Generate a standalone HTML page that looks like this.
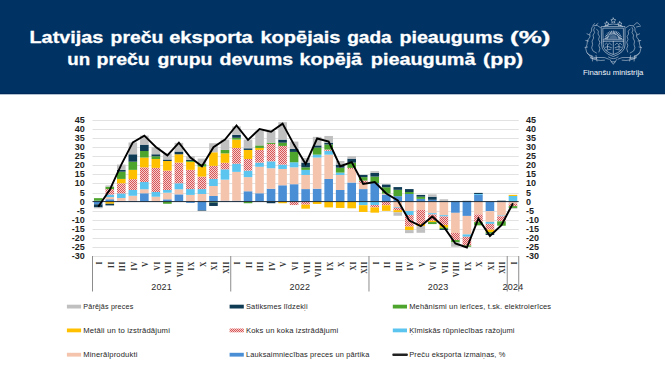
<!DOCTYPE html>
<html><head><meta charset="utf-8">
<style>
html,body{margin:0;padding:0;}
body{width:665px;height:375px;overflow:hidden;background:#fff;position:relative;font-family:"Liberation Sans",sans-serif;}
#hdr{position:absolute;left:0;top:0;width:665px;height:93px;background:#003263;border-bottom:1px solid #00295A;}
#hdr:after{content:"";position:absolute;left:0;top:94px;width:665px;height:1px;background:rgba(0,50,99,0.3);}
svg{position:absolute;left:0;top:0;}
.yl{font-family:"Liberation Sans",sans-serif;font-weight:bold;font-size:9px;fill:#1e1e1e;}
.ml{font-family:"Liberation Serif",serif;font-weight:bold;font-size:7.4px;fill:#333;letter-spacing:0.5px;}
.yr{font-family:"Liberation Sans",sans-serif;font-size:9px;fill:#2a2a2a;letter-spacing:0.2px;}
.lg{font-family:"Liberation Sans",sans-serif;font-size:7.2px;fill:#262626;letter-spacing:0.15px;}
.tt{font-family:"Liberation Sans",sans-serif;font-weight:bold;font-size:17px;fill:#fff;stroke:#fff;stroke-width:0.3px;}
.fm{font-family:"Liberation Sans",sans-serif;font-size:7.8px;fill:#F2F5FA;}
</style></head><body>
<div id="hdr"></div>
<svg width="665" height="375" viewBox="0 0 665 375">
<defs>
<pattern id="chk" width="2" height="2" patternUnits="userSpaceOnUse">
<rect width="2" height="2" fill="#F4CFCF"/>
<rect width="1" height="1" fill="#DA5656"/>
<rect x="1" y="1" width="1" height="1" fill="#DA5656"/>
</pattern>
</defs>
<text x="29.50" y="42.6" class="tt" textLength="73.80" lengthAdjust="spacingAndGlyphs">Latvijas</text>
<text x="110.60" y="42.6" class="tt" textLength="52.70" lengthAdjust="spacingAndGlyphs">preču</text>
<text x="169.20" y="42.6" class="tt" textLength="83.60" lengthAdjust="spacingAndGlyphs">eksporta</text>
<text x="260.50" y="42.6" class="tt" textLength="80.00" lengthAdjust="spacingAndGlyphs">kopējais</text>
<text x="347.20" y="42.6" class="tt" textLength="44.50" lengthAdjust="spacingAndGlyphs">gada</text>
<text x="399.40" y="42.6" class="tt" textLength="104.00" lengthAdjust="spacingAndGlyphs">pieaugums</text>
<text x="510.10" y="42.6" class="tt" textLength="40.30" lengthAdjust="spacingAndGlyphs">(%)</text>
<text x="67.30" y="64.5" class="tt" textLength="22.90" lengthAdjust="spacingAndGlyphs">un</text>
<text x="96.60" y="64.5" class="tt" textLength="53.20" lengthAdjust="spacingAndGlyphs">preču</text>
<text x="157.40" y="64.5" class="tt" textLength="55.00" lengthAdjust="spacingAndGlyphs">grupu</text>
<text x="219.50" y="64.5" class="tt" textLength="73.70" lengthAdjust="spacingAndGlyphs">devums</text>
<text x="299.60" y="64.5" class="tt" textLength="62.50" lengthAdjust="spacingAndGlyphs">kopējā</text>
<text x="370.80" y="64.5" class="tt" textLength="104.70" lengthAdjust="spacingAndGlyphs">pieaugumā</text>
<text x="483.10" y="64.5" class="tt" textLength="40.10" lengthAdjust="spacingAndGlyphs">(pp)</text>
<g fill="none" stroke="#D5DDE8" stroke-width="0.6" stroke-linecap="round" stroke-linejoin="round">
<polygon points="606.80,21.70 607.48,23.07 608.99,23.29 607.89,24.36 608.15,25.86 606.80,25.15 605.45,25.86 605.71,24.36 604.61,23.29 606.12,23.07"/>
<polygon points="613.30,18.00 614.06,19.55 615.77,19.80 614.54,21.00 614.83,22.70 613.30,21.90 611.77,22.70 612.06,21.00 610.83,19.80 612.54,19.55"/>
<polygon points="619.80,21.70 620.48,23.07 621.99,23.29 620.89,24.36 621.15,25.86 619.80,25.15 618.45,25.86 618.71,24.36 617.61,23.29 619.12,23.07"/>
<path d="M604,26.3 Q613.3,21.5 622.6,26.3"/>
<path d="M601.6,26.6 H625 V45 Q625,52.5 613.3,56.5 Q601.6,52.5 601.6,45 Z"/>
<path d="M603.2,28.2 H623.4 V44.8 Q623.4,51.2 613.3,54.6 Q603.2,51.2 603.2,44.8 Z"/>
<path d="M603.2,39.8 H623.4 M603.2,41.3 H623.4 M613.3,41.3 V54"/>
</g>
<g stroke="#D5DDE8" stroke-width="0.8">
<line x1="608.33" y1="38.88" x2="604.55" y2="38.48"/>
<line x1="608.54" y1="37.85" x2="604.93" y2="36.68"/>
<line x1="608.97" y1="36.90" x2="605.68" y2="35.00"/>
<line x1="609.58" y1="36.05" x2="606.76" y2="33.51"/>
<line x1="610.36" y1="35.35" x2="608.13" y2="32.28"/>
<line x1="611.27" y1="34.83" x2="609.72" y2="31.36"/>
<line x1="612.26" y1="34.51" x2="611.47" y2="30.79"/>
<line x1="613.30" y1="34.40" x2="613.30" y2="30.60"/>
<line x1="614.34" y1="34.51" x2="615.13" y2="30.79"/>
<line x1="615.33" y1="34.83" x2="616.88" y2="31.36"/>
<line x1="616.24" y1="35.35" x2="618.47" y2="32.28"/>
<line x1="617.02" y1="36.05" x2="619.84" y2="33.51"/>
<line x1="617.63" y1="36.90" x2="620.92" y2="35.00"/>
<line x1="618.06" y1="37.85" x2="621.67" y2="36.68"/>
<line x1="618.27" y1="38.88" x2="622.05" y2="38.48"/>
</g>
<path d="M608.8,39.6 A4.5,4.5 0 0 1 617.8,39.6 Z" fill="#D5DDE8" opacity="0.35"/>
<g fill="none" stroke="#D5DDE8" stroke-width="0.55" stroke-linecap="round" stroke-linejoin="round">
<path d="M605,44.5 L606.5,43.2 L608,44.6 L609.5,43.2 L611.5,44.8 M605.2,47.2 Q608,45.6 611.5,47.6 M606,50.2 L611,49.2 M607.5,45 V49"/>
<path d="M615,44.8 L617,43.2 L618.5,44.6 L620,43.2 L621.6,44.5 M615,47.6 Q618.5,45.6 621.4,47.2 M615.6,49.2 L620.6,50.2 M619,45 V49"/>
<path d="M600.5,27.5 Q597,24 593.5,25.8 Q590.8,27.6 591.6,31 Q588.8,33.5 590,37 Q586.5,40 587,44.5 Q584.6,48 586.6,52 Q588.5,55.5 592,56"/>
<path d="M594.5,27.5 Q592.6,30 594.6,32.5 Q592,35 593.6,38 Q591,41 592.6,44.5 Q590.5,48 593,51 L596.5,53"/>
<path d="M596.6,29 Q599.6,31 598,34 Q600.6,36 598.6,39.5 Q601,42 598.8,45.6 Q601,48.5 599,52"/>
<path d="M589.6,35 L587,33.8 M588.6,41 L585.8,40.5 M587.5,47 L585,47.5 M593,25.5 L594.5,23.6 M596,25 L598,23.5"/>
<path d="M592,56 L592.5,61 M596,55.5 L597,61 M590.5,58 Q593.5,59.5 596.5,58.6"/>
<path d="M626.1,27.5 Q629.6,24 633.1,25.8 Q635.8,27.6 635,31 Q637.8,33.5 636.6,37 Q640.1,40 639.6,44.5 Q642,48 640,52 Q638.1,55.5 634.6,56"/>
<path d="M632.1,27.5 Q634,30 632,32.5 Q634.6,35 633,38 Q635.6,41 634,44.5 Q636.1,48 633.6,51 L630.1,53"/>
<path d="M630,29 Q627,31 628.6,34 Q626,36 628,39.5 Q625.6,42 627.8,45.6 Q625.6,48.5 627.6,52"/>
<path d="M637,35 L639.6,33.8 M638,41 L640.8,40.5 M639.1,47 L641.6,47.5 M633.6,25.5 L637,22.5 L639.5,24.5 M636.5,27 L640.6,26"/>
<path d="M634.6,56 L634.1,61 M630.6,55.5 L629.6,61 M636.1,58 Q633.1,59.5 630.1,58.6"/>
<path d="M587,53 Q591,58.5 598.5,57.5 Q605.5,56.8 608.5,59 M639.6,53 Q635.6,58.5 628.1,57.5 Q621.1,56.8 618.1,59"/>
<path d="M590,57 Q596,61.5 604.5,60.2 M636.6,57 Q630.6,61.5 622.1,60.2"/>
<path d="M608.5,57 Q613.3,60.5 618.1,57 M609.8,59.4 L613.3,64.3 L616.8,59.4 M611.2,61.8 H615.4"/>
</g>
<text x="613.2" y="74.7" text-anchor="middle" class="fm" textLength="60.5" lengthAdjust="spacingAndGlyphs">Finanšu ministrija</text>
<line x1="92.5" x2="518.7" y1="120.5" y2="120.5" stroke="#E2E2E2" stroke-width="1"/>
<line x1="92.5" x2="518.7" y1="129.5" y2="129.5" stroke="#E2E2E2" stroke-width="1"/>
<line x1="92.5" x2="518.7" y1="138.5" y2="138.5" stroke="#E2E2E2" stroke-width="1"/>
<line x1="92.5" x2="518.7" y1="147.5" y2="147.5" stroke="#E2E2E2" stroke-width="1"/>
<line x1="92.5" x2="518.7" y1="156.5" y2="156.5" stroke="#E2E2E2" stroke-width="1"/>
<line x1="92.5" x2="518.7" y1="165.5" y2="165.5" stroke="#E2E2E2" stroke-width="1"/>
<line x1="92.5" x2="518.7" y1="174.5" y2="174.5" stroke="#E2E2E2" stroke-width="1"/>
<line x1="92.5" x2="518.7" y1="183.5" y2="183.5" stroke="#E2E2E2" stroke-width="1"/>
<line x1="92.5" x2="518.7" y1="193.5" y2="193.5" stroke="#E2E2E2" stroke-width="1"/>
<line x1="92.5" x2="518.7" y1="211.5" y2="211.5" stroke="#E2E2E2" stroke-width="1"/>
<line x1="92.5" x2="518.7" y1="220.5" y2="220.5" stroke="#E2E2E2" stroke-width="1"/>
<line x1="92.5" x2="518.7" y1="229.5" y2="229.5" stroke="#E2E2E2" stroke-width="1"/>
<line x1="92.5" x2="518.7" y1="238.5" y2="238.5" stroke="#E2E2E2" stroke-width="1"/>
<line x1="92.5" x2="518.7" y1="247.5" y2="247.5" stroke="#E2E2E2" stroke-width="1"/>
<line x1="92.5" x2="518.7" y1="256.5" y2="256.5" stroke="#E2E2E2" stroke-width="1"/>
<rect x="93.96" y="201.60" width="8.6" height="2.72" fill="#4A8FD6"/>
<rect x="93.96" y="200.69" width="8.6" height="0.91" fill="#5BC4EF"/>
<rect x="93.96" y="198.15" width="8.6" height="2.54" fill="#4EA52E"/>
<rect x="93.96" y="204.32" width="8.6" height="3.08" fill="#0F3B55"/>
<rect x="93.96" y="207.40" width="8.6" height="0.91" fill="#C0C0C0"/>
<rect x="105.48" y="199.24" width="8.6" height="2.36" fill="#4A8FD6"/>
<rect x="105.48" y="197.07" width="8.6" height="2.18" fill="#F5C4AC"/>
<rect x="105.48" y="194.53" width="8.6" height="2.54" fill="#5BC4EF"/>
<rect x="105.48" y="189.09" width="8.6" height="5.44" fill="url(#chk)"/>
<rect x="105.48" y="201.60" width="8.6" height="2.18" fill="#FFC000"/>
<rect x="105.48" y="186.73" width="8.6" height="2.36" fill="#4EA52E"/>
<rect x="105.48" y="203.78" width="8.6" height="1.63" fill="#0F3B55"/>
<rect x="105.48" y="185.46" width="8.6" height="1.27" fill="#C0C0C0"/>
<rect x="117.00" y="200.87" width="8.6" height="0.73" fill="#4A8FD6"/>
<rect x="117.00" y="197.97" width="8.6" height="2.90" fill="#F5C4AC"/>
<rect x="117.00" y="193.44" width="8.6" height="4.53" fill="#5BC4EF"/>
<rect x="117.00" y="183.29" width="8.6" height="10.15" fill="url(#chk)"/>
<rect x="117.00" y="178.93" width="8.6" height="4.35" fill="#FFC000"/>
<rect x="117.00" y="171.68" width="8.6" height="7.25" fill="#4EA52E"/>
<rect x="117.00" y="169.87" width="8.6" height="1.81" fill="#0F3B55"/>
<rect x="117.00" y="164.61" width="8.6" height="5.26" fill="#C0C0C0"/>
<rect x="128.52" y="200.69" width="8.6" height="0.91" fill="#4A8FD6"/>
<rect x="128.52" y="195.80" width="8.6" height="4.90" fill="#F5C4AC"/>
<rect x="128.52" y="189.99" width="8.6" height="5.80" fill="#5BC4EF"/>
<rect x="128.52" y="179.12" width="8.6" height="10.88" fill="url(#chk)"/>
<rect x="128.52" y="169.87" width="8.6" height="9.25" fill="#FFC000"/>
<rect x="128.52" y="161.71" width="8.6" height="8.16" fill="#4EA52E"/>
<rect x="128.52" y="154.27" width="8.6" height="7.43" fill="#0F3B55"/>
<rect x="128.52" y="142.49" width="8.6" height="11.79" fill="#C0C0C0"/>
<rect x="140.04" y="193.26" width="8.6" height="8.34" fill="#4A8FD6"/>
<rect x="140.04" y="189.27" width="8.6" height="3.99" fill="#F5C4AC"/>
<rect x="140.04" y="182.02" width="8.6" height="7.25" fill="#5BC4EF"/>
<rect x="140.04" y="167.33" width="8.6" height="14.69" fill="url(#chk)"/>
<rect x="140.04" y="157.54" width="8.6" height="9.79" fill="#FFC000"/>
<rect x="140.04" y="151.01" width="8.6" height="6.53" fill="#4EA52E"/>
<rect x="140.04" y="144.66" width="8.6" height="6.35" fill="#0F3B55"/>
<rect x="140.04" y="135.60" width="8.6" height="9.07" fill="#C0C0C0"/>
<rect x="151.56" y="196.70" width="8.6" height="4.90" fill="#F5C4AC"/>
<rect x="151.56" y="191.99" width="8.6" height="4.71" fill="#5BC4EF"/>
<rect x="151.56" y="167.87" width="8.6" height="24.12" fill="url(#chk)"/>
<rect x="151.56" y="158.99" width="8.6" height="8.89" fill="#FFC000"/>
<rect x="151.56" y="156.27" width="8.6" height="2.72" fill="#4EA52E"/>
<rect x="151.56" y="154.27" width="8.6" height="1.99" fill="#0F3B55"/>
<rect x="151.56" y="147.02" width="8.6" height="7.25" fill="#C0C0C0"/>
<rect x="163.08" y="199.33" width="8.6" height="2.27" fill="#4A8FD6"/>
<rect x="163.08" y="192.71" width="8.6" height="6.62" fill="#F5C4AC"/>
<rect x="163.08" y="189.99" width="8.6" height="2.72" fill="#5BC4EF"/>
<rect x="163.08" y="170.59" width="8.6" height="19.40" fill="url(#chk)"/>
<rect x="163.08" y="160.98" width="8.6" height="9.61" fill="#FFC000"/>
<rect x="163.08" y="201.60" width="8.6" height="2.18" fill="#4EA52E"/>
<rect x="163.08" y="159.53" width="8.6" height="1.45" fill="#0F3B55"/>
<rect x="163.08" y="153.55" width="8.6" height="5.98" fill="#C0C0C0"/>
<rect x="174.60" y="194.35" width="8.6" height="7.25" fill="#4A8FD6"/>
<rect x="174.60" y="189.27" width="8.6" height="5.08" fill="#F5C4AC"/>
<rect x="174.60" y="183.29" width="8.6" height="5.98" fill="#5BC4EF"/>
<rect x="174.60" y="162.61" width="8.6" height="20.67" fill="url(#chk)"/>
<rect x="174.60" y="154.27" width="8.6" height="8.34" fill="#FFC000"/>
<rect x="174.60" y="151.55" width="8.6" height="2.72" fill="#0F3B55"/>
<rect x="174.60" y="142.85" width="8.6" height="8.70" fill="#C0C0C0"/>
<rect x="186.12" y="201.60" width="8.6" height="1.27" fill="#4A8FD6"/>
<rect x="186.12" y="194.89" width="8.6" height="6.71" fill="#F5C4AC"/>
<rect x="186.12" y="189.09" width="8.6" height="5.80" fill="#5BC4EF"/>
<rect x="186.12" y="169.87" width="8.6" height="19.22" fill="url(#chk)"/>
<rect x="186.12" y="161.89" width="8.6" height="7.98" fill="#FFC000"/>
<rect x="186.12" y="160.98" width="8.6" height="0.91" fill="#4EA52E"/>
<rect x="186.12" y="159.89" width="8.6" height="1.09" fill="#0F3B55"/>
<rect x="186.12" y="156.27" width="8.6" height="3.63" fill="#C0C0C0"/>
<rect x="197.64" y="201.60" width="8.6" height="8.70" fill="#4A8FD6"/>
<rect x="197.64" y="193.98" width="8.6" height="7.62" fill="#F5C4AC"/>
<rect x="197.64" y="189.09" width="8.6" height="4.90" fill="#5BC4EF"/>
<rect x="197.64" y="176.58" width="8.6" height="12.51" fill="url(#chk)"/>
<rect x="197.64" y="166.60" width="8.6" height="9.97" fill="#FFC000"/>
<rect x="197.64" y="164.06" width="8.6" height="2.54" fill="#4EA52E"/>
<rect x="197.64" y="210.30" width="8.6" height="0.54" fill="#0F3B55"/>
<rect x="197.64" y="158.62" width="8.6" height="5.44" fill="#C0C0C0"/>
<rect x="209.16" y="195.98" width="8.6" height="5.62" fill="#4A8FD6"/>
<rect x="209.16" y="186.01" width="8.6" height="9.97" fill="#F5C4AC"/>
<rect x="209.16" y="178.93" width="8.6" height="7.07" fill="#5BC4EF"/>
<rect x="209.16" y="165.88" width="8.6" height="13.06" fill="url(#chk)"/>
<rect x="209.16" y="152.28" width="8.6" height="13.60" fill="#FFC000"/>
<rect x="209.16" y="201.60" width="8.6" height="0.91" fill="#4EA52E"/>
<rect x="209.16" y="202.51" width="8.6" height="3.45" fill="#0F3B55"/>
<rect x="209.16" y="143.21" width="8.6" height="9.07" fill="#C0C0C0"/>
<rect x="220.68" y="200.69" width="8.6" height="0.91" fill="#4A8FD6"/>
<rect x="220.68" y="179.66" width="8.6" height="21.03" fill="#F5C4AC"/>
<rect x="220.68" y="169.32" width="8.6" height="10.34" fill="#5BC4EF"/>
<rect x="220.68" y="162.80" width="8.6" height="6.53" fill="url(#chk)"/>
<rect x="220.68" y="153.37" width="8.6" height="9.43" fill="#FFC000"/>
<rect x="220.68" y="149.92" width="8.6" height="3.45" fill="#4EA52E"/>
<rect x="220.68" y="139.59" width="8.6" height="10.34" fill="#C0C0C0"/>
<rect x="232.20" y="200.69" width="8.6" height="0.91" fill="#4A8FD6"/>
<rect x="232.20" y="171.86" width="8.6" height="28.83" fill="#F5C4AC"/>
<rect x="232.20" y="163.70" width="8.6" height="8.16" fill="#5BC4EF"/>
<rect x="232.20" y="147.93" width="8.6" height="15.78" fill="url(#chk)"/>
<rect x="232.20" y="139.59" width="8.6" height="8.34" fill="#FFC000"/>
<rect x="232.20" y="137.77" width="8.6" height="1.81" fill="#4EA52E"/>
<rect x="232.20" y="134.87" width="8.6" height="2.90" fill="#0F3B55"/>
<rect x="232.20" y="126.35" width="8.6" height="8.52" fill="#C0C0C0"/>
<rect x="243.72" y="191.26" width="8.6" height="10.34" fill="#4A8FD6"/>
<rect x="243.72" y="177.12" width="8.6" height="14.14" fill="#F5C4AC"/>
<rect x="243.72" y="170.59" width="8.6" height="6.53" fill="#5BC4EF"/>
<rect x="243.72" y="158.99" width="8.6" height="11.61" fill="url(#chk)"/>
<rect x="243.72" y="149.92" width="8.6" height="9.07" fill="#FFC000"/>
<rect x="243.72" y="201.60" width="8.6" height="1.63" fill="#4EA52E"/>
<rect x="243.72" y="148.29" width="8.6" height="1.63" fill="#0F3B55"/>
<rect x="243.72" y="139.59" width="8.6" height="8.70" fill="#C0C0C0"/>
<rect x="255.24" y="193.26" width="8.6" height="8.34" fill="#4A8FD6"/>
<rect x="255.24" y="166.78" width="8.6" height="26.47" fill="#F5C4AC"/>
<rect x="255.24" y="162.61" width="8.6" height="4.17" fill="#5BC4EF"/>
<rect x="255.24" y="149.92" width="8.6" height="12.69" fill="url(#chk)"/>
<rect x="255.24" y="147.93" width="8.6" height="1.99" fill="#FFC000"/>
<rect x="255.24" y="145.39" width="8.6" height="2.54" fill="#4EA52E"/>
<rect x="255.24" y="130.70" width="8.6" height="14.69" fill="#C0C0C0"/>
<rect x="266.76" y="188.73" width="8.6" height="12.87" fill="#4A8FD6"/>
<rect x="266.76" y="168.24" width="8.6" height="20.49" fill="#F5C4AC"/>
<rect x="266.76" y="161.34" width="8.6" height="6.89" fill="#5BC4EF"/>
<rect x="266.76" y="143.94" width="8.6" height="17.41" fill="url(#chk)"/>
<rect x="266.76" y="142.67" width="8.6" height="1.27" fill="#4EA52E"/>
<rect x="266.76" y="201.60" width="8.6" height="1.63" fill="#0F3B55"/>
<rect x="266.76" y="130.88" width="8.6" height="11.79" fill="#C0C0C0"/>
<rect x="278.28" y="185.28" width="8.6" height="16.32" fill="#4A8FD6"/>
<rect x="278.28" y="168.96" width="8.6" height="16.32" fill="#F5C4AC"/>
<rect x="278.28" y="164.61" width="8.6" height="4.35" fill="#5BC4EF"/>
<rect x="278.28" y="145.93" width="8.6" height="18.68" fill="url(#chk)"/>
<rect x="278.28" y="201.60" width="8.6" height="1.63" fill="#FFC000"/>
<rect x="278.28" y="142.67" width="8.6" height="3.26" fill="#4EA52E"/>
<rect x="278.28" y="139.59" width="8.6" height="3.08" fill="#0F3B55"/>
<rect x="278.28" y="122.18" width="8.6" height="17.41" fill="#C0C0C0"/>
<rect x="289.80" y="184.19" width="8.6" height="17.41" fill="#4A8FD6"/>
<rect x="289.80" y="167.33" width="8.6" height="16.86" fill="#F5C4AC"/>
<rect x="289.80" y="162.25" width="8.6" height="5.08" fill="#5BC4EF"/>
<rect x="289.80" y="201.60" width="8.6" height="3.45" fill="url(#chk)"/>
<rect x="289.80" y="151.92" width="8.6" height="10.34" fill="#4EA52E"/>
<rect x="289.80" y="148.92" width="8.6" height="2.99" fill="#0F3B55"/>
<rect x="289.80" y="141.58" width="8.6" height="7.34" fill="#C0C0C0"/>
<rect x="301.32" y="189.09" width="8.6" height="12.51" fill="#4A8FD6"/>
<rect x="301.32" y="174.94" width="8.6" height="14.14" fill="#F5C4AC"/>
<rect x="301.32" y="169.87" width="8.6" height="5.08" fill="#5BC4EF"/>
<rect x="301.32" y="201.60" width="8.6" height="3.08" fill="url(#chk)"/>
<rect x="301.32" y="204.68" width="8.6" height="3.99" fill="#FFC000"/>
<rect x="301.32" y="167.33" width="8.6" height="2.54" fill="#4EA52E"/>
<rect x="301.32" y="162.61" width="8.6" height="4.71" fill="#0F3B55"/>
<rect x="301.32" y="157.90" width="8.6" height="4.71" fill="#C0C0C0"/>
<rect x="312.84" y="188.73" width="8.6" height="12.87" fill="#4A8FD6"/>
<rect x="312.84" y="157.54" width="8.6" height="31.19" fill="#F5C4AC"/>
<rect x="312.84" y="154.64" width="8.6" height="2.90" fill="#5BC4EF"/>
<rect x="312.84" y="201.60" width="8.6" height="2.36" fill="#FFC000"/>
<rect x="312.84" y="147.56" width="8.6" height="7.07" fill="#4EA52E"/>
<rect x="312.84" y="145.39" width="8.6" height="2.18" fill="#0F3B55"/>
<rect x="312.84" y="136.87" width="8.6" height="8.52" fill="#C0C0C0"/>
<rect x="324.36" y="178.93" width="8.6" height="22.67" fill="#4A8FD6"/>
<rect x="324.36" y="154.64" width="8.6" height="24.30" fill="#F5C4AC"/>
<rect x="324.36" y="150.83" width="8.6" height="3.81" fill="#5BC4EF"/>
<rect x="324.36" y="149.56" width="8.6" height="1.27" fill="url(#chk)"/>
<rect x="324.36" y="201.60" width="8.6" height="5.80" fill="#FFC000"/>
<rect x="324.36" y="144.48" width="8.6" height="5.08" fill="#4EA52E"/>
<rect x="324.36" y="142.67" width="8.6" height="1.81" fill="#0F3B55"/>
<rect x="324.36" y="135.96" width="8.6" height="6.71" fill="#C0C0C0"/>
<rect x="335.88" y="189.99" width="8.6" height="11.61" fill="#4A8FD6"/>
<rect x="335.88" y="174.94" width="8.6" height="15.05" fill="#F5C4AC"/>
<rect x="335.88" y="172.59" width="8.6" height="2.36" fill="#5BC4EF"/>
<rect x="335.88" y="201.60" width="8.6" height="6.35" fill="#FFC000"/>
<rect x="335.88" y="167.69" width="8.6" height="4.90" fill="#4EA52E"/>
<rect x="335.88" y="164.61" width="8.6" height="3.08" fill="#0F3B55"/>
<rect x="335.88" y="160.98" width="8.6" height="3.63" fill="#C0C0C0"/>
<rect x="347.40" y="182.56" width="8.6" height="19.04" fill="#4A8FD6"/>
<rect x="347.40" y="168.96" width="8.6" height="13.60" fill="#F5C4AC"/>
<rect x="347.40" y="167.87" width="8.6" height="1.09" fill="url(#chk)"/>
<rect x="347.40" y="201.60" width="8.6" height="6.71" fill="#FFC000"/>
<rect x="347.40" y="162.61" width="8.6" height="5.26" fill="#4EA52E"/>
<rect x="347.40" y="158.62" width="8.6" height="3.99" fill="#0F3B55"/>
<rect x="347.40" y="156.27" width="8.6" height="2.36" fill="#C0C0C0"/>
<rect x="358.92" y="189.09" width="8.6" height="12.51" fill="#4A8FD6"/>
<rect x="358.92" y="183.29" width="8.6" height="5.80" fill="#F5C4AC"/>
<rect x="358.92" y="201.60" width="8.6" height="3.63" fill="#5BC4EF"/>
<rect x="358.92" y="180.57" width="8.6" height="2.72" fill="url(#chk)"/>
<rect x="358.92" y="205.23" width="8.6" height="6.71" fill="#FFC000"/>
<rect x="358.92" y="177.12" width="8.6" height="3.45" fill="#4EA52E"/>
<rect x="358.92" y="174.94" width="8.6" height="2.18" fill="#0F3B55"/>
<rect x="370.44" y="183.10" width="8.6" height="18.50" fill="#4A8FD6"/>
<rect x="370.44" y="201.60" width="8.6" height="3.45" fill="#5BC4EF"/>
<rect x="370.44" y="205.05" width="8.6" height="2.36" fill="url(#chk)"/>
<rect x="370.44" y="207.40" width="8.6" height="5.26" fill="#FFC000"/>
<rect x="370.44" y="176.58" width="8.6" height="6.53" fill="#4EA52E"/>
<rect x="370.44" y="172.95" width="8.6" height="3.63" fill="#0F3B55"/>
<rect x="370.44" y="171.14" width="8.6" height="1.81" fill="#C0C0C0"/>
<rect x="381.96" y="194.53" width="8.6" height="7.07" fill="#4A8FD6"/>
<rect x="381.96" y="193.62" width="8.6" height="0.91" fill="#F5C4AC"/>
<rect x="381.96" y="201.60" width="8.6" height="3.63" fill="url(#chk)"/>
<rect x="381.96" y="205.23" width="8.6" height="5.62" fill="#FFC000"/>
<rect x="381.96" y="187.27" width="8.6" height="6.35" fill="#4EA52E"/>
<rect x="381.96" y="184.55" width="8.6" height="2.72" fill="#0F3B55"/>
<rect x="393.48" y="196.16" width="8.6" height="5.44" fill="#4A8FD6"/>
<rect x="393.48" y="201.60" width="8.6" height="5.44" fill="#F5C4AC"/>
<rect x="393.48" y="207.04" width="8.6" height="0.73" fill="#5BC4EF"/>
<rect x="393.48" y="207.77" width="8.6" height="2.36" fill="url(#chk)"/>
<rect x="393.48" y="210.12" width="8.6" height="2.18" fill="#FFC000"/>
<rect x="393.48" y="189.81" width="8.6" height="6.35" fill="#4EA52E"/>
<rect x="393.48" y="187.09" width="8.6" height="2.72" fill="#0F3B55"/>
<rect x="393.48" y="212.30" width="8.6" height="3.45" fill="#C0C0C0"/>
<rect x="405.00" y="193.98" width="8.6" height="7.62" fill="#4A8FD6"/>
<rect x="405.00" y="201.60" width="8.6" height="9.43" fill="#F5C4AC"/>
<rect x="405.00" y="211.03" width="8.6" height="3.99" fill="#5BC4EF"/>
<rect x="405.00" y="215.02" width="8.6" height="11.61" fill="url(#chk)"/>
<rect x="405.00" y="226.62" width="8.6" height="3.45" fill="#FFC000"/>
<rect x="405.00" y="191.99" width="8.6" height="1.99" fill="#4EA52E"/>
<rect x="405.00" y="189.09" width="8.6" height="2.90" fill="#0F3B55"/>
<rect x="405.00" y="230.07" width="8.6" height="3.08" fill="#C0C0C0"/>
<rect x="416.52" y="198.88" width="8.6" height="2.72" fill="#4A8FD6"/>
<rect x="416.52" y="201.60" width="8.6" height="8.34" fill="#F5C4AC"/>
<rect x="416.52" y="209.94" width="8.6" height="14.14" fill="url(#chk)"/>
<rect x="416.52" y="224.08" width="8.6" height="1.99" fill="#FFC000"/>
<rect x="416.52" y="196.70" width="8.6" height="2.18" fill="#4EA52E"/>
<rect x="416.52" y="194.89" width="8.6" height="1.81" fill="#0F3B55"/>
<rect x="416.52" y="226.08" width="8.6" height="6.71" fill="#C0C0C0"/>
<rect x="428.04" y="199.79" width="8.6" height="1.81" fill="#4A8FD6"/>
<rect x="428.04" y="201.60" width="8.6" height="11.61" fill="#F5C4AC"/>
<rect x="428.04" y="213.21" width="8.6" height="1.27" fill="#5BC4EF"/>
<rect x="428.04" y="214.47" width="8.6" height="6.35" fill="url(#chk)"/>
<rect x="428.04" y="220.82" width="8.6" height="1.27" fill="#FFC000"/>
<rect x="428.04" y="222.09" width="8.6" height="1.99" fill="#4EA52E"/>
<rect x="428.04" y="196.70" width="8.6" height="3.08" fill="#0F3B55"/>
<rect x="428.04" y="194.35" width="8.6" height="2.36" fill="#C0C0C0"/>
<rect x="439.56" y="201.60" width="8.6" height="13.60" fill="#F5C4AC"/>
<rect x="439.56" y="215.20" width="8.6" height="1.27" fill="#5BC4EF"/>
<rect x="439.56" y="216.47" width="8.6" height="8.52" fill="url(#chk)"/>
<rect x="439.56" y="224.99" width="8.6" height="2.72" fill="#FFC000"/>
<rect x="439.56" y="227.71" width="8.6" height="1.27" fill="#4EA52E"/>
<rect x="439.56" y="228.98" width="8.6" height="0.91" fill="#0F3B55"/>
<rect x="439.56" y="199.24" width="8.6" height="2.36" fill="#C0C0C0"/>
<rect x="451.08" y="201.60" width="8.6" height="11.24" fill="#4A8FD6"/>
<rect x="451.08" y="212.84" width="8.6" height="20.13" fill="#F5C4AC"/>
<rect x="451.08" y="200.87" width="8.6" height="0.73" fill="#5BC4EF"/>
<rect x="451.08" y="232.97" width="8.6" height="7.07" fill="url(#chk)"/>
<rect x="451.08" y="240.04" width="8.6" height="2.36" fill="#4EA52E"/>
<rect x="451.08" y="242.40" width="8.6" height="4.35" fill="#C0C0C0"/>
<rect x="462.60" y="201.60" width="8.6" height="14.33" fill="#4A8FD6"/>
<rect x="462.60" y="215.93" width="8.6" height="18.50" fill="#F5C4AC"/>
<rect x="462.60" y="234.42" width="8.6" height="2.36" fill="#5BC4EF"/>
<rect x="462.60" y="236.78" width="8.6" height="8.70" fill="url(#chk)"/>
<rect x="462.60" y="245.48" width="8.6" height="1.27" fill="#4EA52E"/>
<rect x="462.60" y="200.87" width="8.6" height="0.73" fill="#0F3B55"/>
<rect x="474.12" y="194.89" width="8.6" height="6.71" fill="#4A8FD6"/>
<rect x="474.12" y="201.60" width="8.6" height="12.87" fill="#F5C4AC"/>
<rect x="474.12" y="193.98" width="8.6" height="0.91" fill="#5BC4EF"/>
<rect x="474.12" y="214.47" width="8.6" height="7.62" fill="url(#chk)"/>
<rect x="474.12" y="222.09" width="8.6" height="3.26" fill="#4EA52E"/>
<rect x="474.12" y="192.90" width="8.6" height="1.09" fill="#0F3B55"/>
<rect x="485.64" y="201.60" width="8.6" height="9.61" fill="#4A8FD6"/>
<rect x="485.64" y="211.21" width="8.6" height="10.70" fill="#F5C4AC"/>
<rect x="485.64" y="221.91" width="8.6" height="1.99" fill="#5BC4EF"/>
<rect x="485.64" y="223.90" width="8.6" height="5.80" fill="url(#chk)"/>
<rect x="485.64" y="229.71" width="8.6" height="2.36" fill="#FFC000"/>
<rect x="485.64" y="232.06" width="8.6" height="1.63" fill="#4EA52E"/>
<rect x="485.64" y="233.70" width="8.6" height="1.27" fill="#0F3B55"/>
<rect x="497.16" y="201.60" width="8.6" height="0.54" fill="#4A8FD6"/>
<rect x="497.16" y="202.14" width="8.6" height="13.42" fill="#F5C4AC"/>
<rect x="497.16" y="215.56" width="8.6" height="0.73" fill="#5BC4EF"/>
<rect x="497.16" y="216.29" width="8.6" height="5.08" fill="url(#chk)"/>
<rect x="497.16" y="221.36" width="8.6" height="4.35" fill="#4EA52E"/>
<rect x="497.16" y="200.69" width="8.6" height="0.91" fill="#0F3B55"/>
<rect x="508.68" y="201.06" width="8.6" height="0.54" fill="#4A8FD6"/>
<rect x="508.68" y="201.60" width="8.6" height="2.18" fill="#F5C4AC"/>
<rect x="508.68" y="195.98" width="8.6" height="5.08" fill="#5BC4EF"/>
<rect x="508.68" y="203.78" width="8.6" height="2.36" fill="url(#chk)"/>
<rect x="508.68" y="194.89" width="8.6" height="1.09" fill="#FFC000"/>
<rect x="508.68" y="206.13" width="8.6" height="1.81" fill="#4EA52E"/>
<rect x="508.68" y="207.95" width="8.6" height="0.73" fill="#C0C0C0"/>
<line x1="92.5" x2="518.7" y1="201.60" y2="201.60" stroke="#1C2B3A" stroke-width="1"/>
<polyline points="98.26,206.68 109.78,189.81 121.30,164.61 132.82,142.31 144.34,135.60 155.86,147.02 167.38,155.36 178.90,142.67 190.42,157.54 201.94,166.24 213.46,147.20 224.98,139.59 236.50,125.44 248.02,139.95 259.54,129.07 271.06,131.79 282.58,123.63 294.10,144.84 305.62,163.88 317.14,138.50 328.66,141.58 340.18,166.24 351.70,162.07 363.22,184.01 374.74,182.02 386.26,193.44 397.78,200.51 409.30,220.64 420.82,226.08 432.34,216.47 443.86,226.99 455.38,243.49 466.90,247.48 478.42,218.65 489.94,236.05 501.46,225.17 512.98,203.23" fill="none" stroke="#000" stroke-width="1.9" stroke-linejoin="miter"/>
<text x="84.8" y="123.00" text-anchor="end" class="yl">45</text>
<text x="525.9" y="123.00" class="yl">45</text>
<text x="84.8" y="132.07" text-anchor="end" class="yl">40</text>
<text x="525.9" y="132.07" class="yl">40</text>
<text x="84.8" y="141.13" text-anchor="end" class="yl">35</text>
<text x="525.9" y="141.13" class="yl">35</text>
<text x="84.8" y="150.20" text-anchor="end" class="yl">30</text>
<text x="525.9" y="150.20" class="yl">30</text>
<text x="84.8" y="159.27" text-anchor="end" class="yl">25</text>
<text x="525.9" y="159.27" class="yl">25</text>
<text x="84.8" y="168.33" text-anchor="end" class="yl">20</text>
<text x="525.9" y="168.33" class="yl">20</text>
<text x="84.8" y="177.40" text-anchor="end" class="yl">15</text>
<text x="525.9" y="177.40" class="yl">15</text>
<text x="84.8" y="186.47" text-anchor="end" class="yl">10</text>
<text x="525.9" y="186.47" class="yl">10</text>
<text x="84.8" y="195.53" text-anchor="end" class="yl">5</text>
<text x="525.9" y="195.53" class="yl">5</text>
<text x="84.8" y="204.60" text-anchor="end" class="yl">0</text>
<text x="525.9" y="204.60" class="yl">0</text>
<text x="84.8" y="213.67" text-anchor="end" class="yl">-5</text>
<text x="525.9" y="213.67" class="yl">-5</text>
<text x="84.8" y="222.73" text-anchor="end" class="yl">-10</text>
<text x="525.9" y="222.73" class="yl">-10</text>
<text x="84.8" y="231.80" text-anchor="end" class="yl">-15</text>
<text x="525.9" y="231.80" class="yl">-15</text>
<text x="84.8" y="240.87" text-anchor="end" class="yl">-20</text>
<text x="525.9" y="240.87" class="yl">-20</text>
<text x="84.8" y="249.93" text-anchor="end" class="yl">-25</text>
<text x="525.9" y="249.93" class="yl">-25</text>
<text x="84.8" y="259.00" text-anchor="end" class="yl">-30</text>
<text x="525.9" y="259.00" class="yl">-30</text>
<text transform="translate(102.16,261.2) rotate(-90)" text-anchor="end" class="ml">I</text>
<text transform="translate(113.68,261.2) rotate(-90)" text-anchor="end" class="ml">II</text>
<text transform="translate(125.20,261.2) rotate(-90)" text-anchor="end" class="ml">III</text>
<text transform="translate(136.72,261.2) rotate(-90)" text-anchor="end" class="ml">IV</text>
<text transform="translate(148.24,261.2) rotate(-90)" text-anchor="end" class="ml">V</text>
<text transform="translate(159.76,261.2) rotate(-90)" text-anchor="end" class="ml">VI</text>
<text transform="translate(171.28,261.2) rotate(-90)" text-anchor="end" class="ml">VII</text>
<text transform="translate(182.80,261.2) rotate(-90)" text-anchor="end" class="ml">VIII</text>
<text transform="translate(194.32,261.2) rotate(-90)" text-anchor="end" class="ml">IX</text>
<text transform="translate(205.84,261.2) rotate(-90)" text-anchor="end" class="ml">X</text>
<text transform="translate(217.36,261.2) rotate(-90)" text-anchor="end" class="ml">XI</text>
<text transform="translate(228.88,261.2) rotate(-90)" text-anchor="end" class="ml">XII</text>
<text transform="translate(240.40,261.2) rotate(-90)" text-anchor="end" class="ml">I</text>
<text transform="translate(251.92,261.2) rotate(-90)" text-anchor="end" class="ml">II</text>
<text transform="translate(263.44,261.2) rotate(-90)" text-anchor="end" class="ml">III</text>
<text transform="translate(274.96,261.2) rotate(-90)" text-anchor="end" class="ml">IV</text>
<text transform="translate(286.48,261.2) rotate(-90)" text-anchor="end" class="ml">V</text>
<text transform="translate(298.00,261.2) rotate(-90)" text-anchor="end" class="ml">VI</text>
<text transform="translate(309.52,261.2) rotate(-90)" text-anchor="end" class="ml">VII</text>
<text transform="translate(321.04,261.2) rotate(-90)" text-anchor="end" class="ml">VIII</text>
<text transform="translate(332.56,261.2) rotate(-90)" text-anchor="end" class="ml">IX</text>
<text transform="translate(344.08,261.2) rotate(-90)" text-anchor="end" class="ml">X</text>
<text transform="translate(355.60,261.2) rotate(-90)" text-anchor="end" class="ml">XI</text>
<text transform="translate(367.12,261.2) rotate(-90)" text-anchor="end" class="ml">XII</text>
<text transform="translate(378.64,261.2) rotate(-90)" text-anchor="end" class="ml">I</text>
<text transform="translate(390.16,261.2) rotate(-90)" text-anchor="end" class="ml">II</text>
<text transform="translate(401.68,261.2) rotate(-90)" text-anchor="end" class="ml">III</text>
<text transform="translate(413.20,261.2) rotate(-90)" text-anchor="end" class="ml">IV</text>
<text transform="translate(424.72,261.2) rotate(-90)" text-anchor="end" class="ml">V</text>
<text transform="translate(436.24,261.2) rotate(-90)" text-anchor="end" class="ml">VI</text>
<text transform="translate(447.76,261.2) rotate(-90)" text-anchor="end" class="ml">VII</text>
<text transform="translate(459.28,261.2) rotate(-90)" text-anchor="end" class="ml">VIII</text>
<text transform="translate(470.80,261.2) rotate(-90)" text-anchor="end" class="ml">IX</text>
<text transform="translate(482.32,261.2) rotate(-90)" text-anchor="end" class="ml">X</text>
<text transform="translate(493.84,261.2) rotate(-90)" text-anchor="end" class="ml">XI</text>
<text transform="translate(505.36,261.2) rotate(-90)" text-anchor="end" class="ml">XII</text>
<text transform="translate(516.88,261.2) rotate(-90)" text-anchor="end" class="ml">I</text>
<line x1="92.50" x2="92.50" y1="256" y2="291.5" stroke="#8C8C8C" stroke-width="1"/>
<line x1="230.74" x2="230.74" y1="256" y2="291.5" stroke="#8C8C8C" stroke-width="1"/>
<line x1="368.98" x2="368.98" y1="256" y2="291.5" stroke="#8C8C8C" stroke-width="1"/>
<line x1="507.22" x2="507.22" y1="256" y2="291.5" stroke="#8C8C8C" stroke-width="1"/>
<line x1="518.74" x2="518.74" y1="256" y2="291.5" stroke="#8C8C8C" stroke-width="1"/>
<text x="161.62" y="290.2" text-anchor="middle" class="yr">2021</text>
<text x="299.86" y="290.2" text-anchor="middle" class="yr">2022</text>
<text x="438.10" y="290.2" text-anchor="middle" class="yr">2023</text>
<text x="512.98" y="290.2" text-anchor="middle" class="yr">2024</text>
<rect x="66.9" y="304.70" width="14.2" height="3.8" fill="#C0C0C0"/>
<text x="83.30" y="309.00" class="lg" textLength="50.1" lengthAdjust="spacingAndGlyphs">Pārējās preces</text>
<rect x="229.6" y="304.70" width="14.2" height="3.8" fill="#0F3B55"/>
<text x="246.00" y="309.00" class="lg" textLength="61.7" lengthAdjust="spacingAndGlyphs">Satiksmes līdzekļi</text>
<rect x="392.8" y="304.70" width="14.2" height="3.8" fill="#4EA52E"/>
<text x="409.20" y="309.00" class="lg" textLength="142.1" lengthAdjust="spacingAndGlyphs">Mehānismi un ierīces, t.sk. elektroierīces</text>
<rect x="66.9" y="328.50" width="14.2" height="3.8" fill="#FFC000"/>
<text x="83.30" y="332.80" class="lg" textLength="86.7" lengthAdjust="spacingAndGlyphs">Metāli un to izstrādājumi</text>
<rect x="229.6" y="328.50" width="14.2" height="3.8" fill="url(#chk)"/>
<text x="246.00" y="332.80" class="lg" textLength="92.3" lengthAdjust="spacingAndGlyphs">Koks un koka izstrādājumi</text>
<rect x="392.8" y="328.50" width="14.2" height="3.8" fill="#5BC4EF"/>
<text x="409.20" y="332.80" class="lg" textLength="105.5" lengthAdjust="spacingAndGlyphs">Ķīmiskās rūpniecības ražojumi</text>
<rect x="66.9" y="352.80" width="14.2" height="3.8" fill="#F5C4AC"/>
<text x="83.30" y="357.10" class="lg" textLength="54.2" lengthAdjust="spacingAndGlyphs">Minerālprodukti</text>
<rect x="229.6" y="352.80" width="14.2" height="3.8" fill="#4A8FD6"/>
<text x="246.00" y="357.10" class="lg" textLength="123.5" lengthAdjust="spacingAndGlyphs">Lauksaimniecības preces un pārtika</text>
<rect x="392.3" y="353.60" width="15.6" height="2.3" fill="#222" rx="1"/>
<text x="409.20" y="357.10" class="lg" textLength="96.4" lengthAdjust="spacingAndGlyphs">Preču eksporta izmaiņas, %</text>
</svg>
</body></html>
